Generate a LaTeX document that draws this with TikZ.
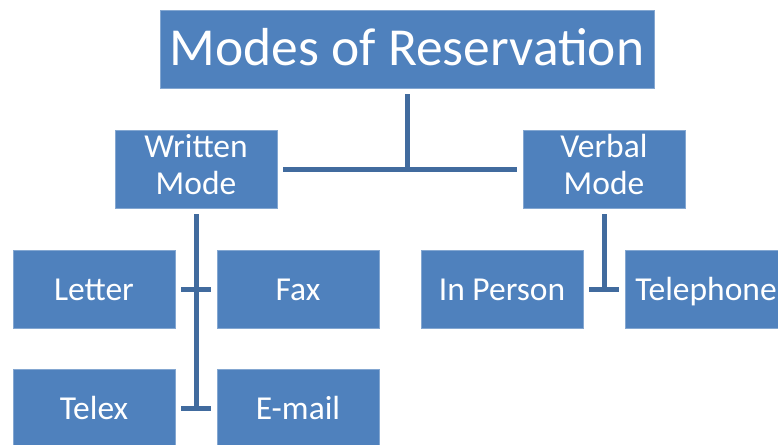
\documentclass[tikz,border=0pt]{standalone}
\usepackage{fontspec}
\setmainfont{Carlito}
\usetikzlibrary{calc}
\definecolor{boxblue}{HTML}{4F81BD}
\definecolor{lineblue}{HTML}{416B9E}
\newcommand{\boxstrutTop}{\rule{0pt}{31pt}}
\newcommand{\boxstrutBot}{\rule[-9pt]{0pt}{9pt}}
\newcommand{\titlestrutTop}{\rule{0pt}{46pt}}
\newcommand{\titlestrutBot}{\rule[-12pt]{0pt}{12pt}}
\begin{document}
\begin{tikzpicture}[x=1pt,y=-1pt,
  box/.style={fill=boxblue,draw=boxblue!70!white,line width=0.6pt,text=white,inner sep=0pt,
    minimum width=162pt,minimum height=78pt,align=center,
    font=\fontsize{33.5}{37}\selectfont,
    execute at begin node=\boxstrutTop, execute at end node=\boxstrutBot},
  titlebox/.style={box,minimum width=494pt,font=\fontsize{53.5}{60}\selectfont,
    execute at begin node=\titlestrutTop, execute at end node=\titlestrutBot},
  conn/.style={draw=lineblue,line width=5pt}]
\useasboundingbox (0,0) rectangle (778,444);
\begin{scope}
\clip (0,0) rectangle (778,444);
\node[titlebox] (title) at (407,49) {Modes of Reservation};
\node[box] (written) at (196,169) {Written\\Mode};
\node[box] (verbal) at (604,169) {Verbal\\Mode};
\node[box] (letter) at (94,289) {Letter};
\node[box] (fax) at (298,289) {Fax};
\node[box] (inperson) at (502,289) {In Person};
\node[box] (telephone) at (706,289) {Telephone};
\node[box] (telex) at (94,408) {Telex};
\node[box] (email) at (298,408) {E-mail};

\draw[conn] ($(title.south)+(0,6)$) -- (title.south |- written.east);
\draw[conn] ($(written.east)+(6,0)$) -- ($(verbal.west)+(-6,0)$);
\draw[conn] ($(written.south)+(0,6)$) -- (written.south |- telex.east);
\draw[conn] ($(letter.east)+(6,0)$) -- ($(fax.west)+(-6,0)$);
\draw[conn] ($(telex.east)+(6,0)$) -- ($(email.west)+(-6,0)$);
\draw[conn] ($(verbal.south)+(0,6)$) -- (verbal.south |- inperson.east);
\draw[conn] ($(inperson.east)+(6,0)$) -- ($(telephone.west)+(-6,0)$);
\end{scope}
\end{tikzpicture}
\end{document}
